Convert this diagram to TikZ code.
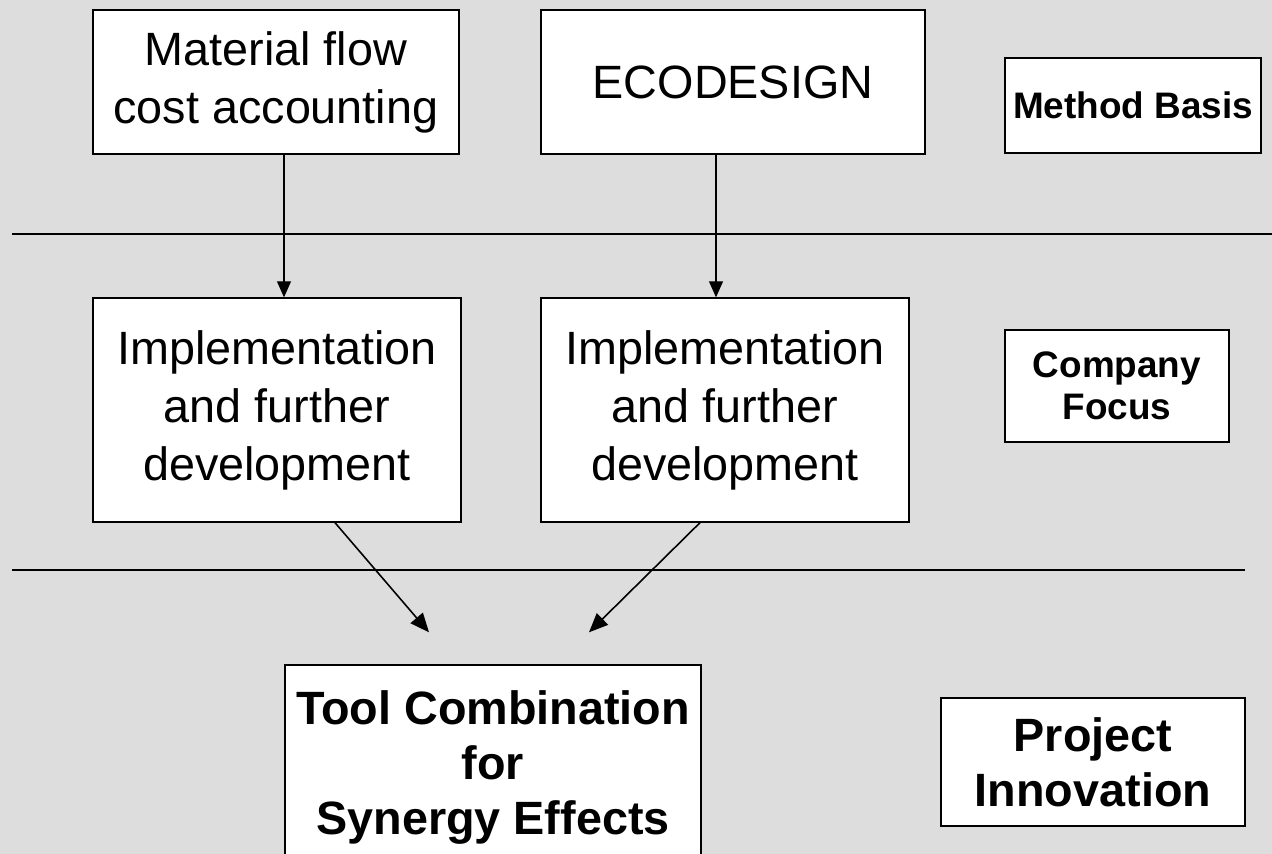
\documentclass[tikz,border=0pt]{standalone}
\usepackage{fontspec}
\setmainfont{Liberation Sans}
\usetikzlibrary{arrows.meta, positioning, calc}
\definecolor{panelgray}{RGB}{221,221,221}

\begin{document}
\begin{tikzpicture}[x=0.02cm, y=-0.02cm,
  box/.style={draw, fill=white, line width=0.8pt, align=center, inner sep=0pt,
              font=\fontsize{26.6}{33}\selectfont},
  boldbox/.style={box, font=\fontsize{26.6}{31.5}\selectfont\bfseries},
  tag/.style={box, font=\fontsize{21}{24}\selectfont\bfseries},
  sep/.style={line width=0.8pt},
  arr/.style={-{Triangle[length=0.32cm, width=0.28cm]}, line width=0.6pt},
  darr/.style={-{Triangle[length=0.38cm, width=0.32cm]}, line width=0.9pt}
]
\fill[panelgray, use as bounding box] (0,0) rectangle (1272,854);
\clip (0,0) rectangle (1272,854);

% method basis row
\node[box, minimum width=7.32cm, minimum height=2.88cm] (mfca) at (276,82)
     {Material flow\\cost accounting};
\node[box, minimum width=7.68cm, minimum height=2.88cm] (eco) at (733,82)
     {ECODESIGN};
\node[tag, minimum width=5.12cm, minimum height=1.9cm] (basis) at (1133,105.5)
     {Method Basis};

\draw[sep] (12,234) -- (1272,234);

% company focus row
\node[box, minimum width=7.36cm, minimum height=4.48cm] (impl1) at (277,410)
     {Implementation\\and further\\development};
\node[box, minimum width=7.36cm, minimum height=4.48cm] (impl2) at (725,410)
     {Implementation\\and further\\development};
\node[tag, minimum width=4.48cm, minimum height=2.24cm] (focus) at (1117,386)
     {Company\\Focus};

\draw[sep] (12,570) -- (1245,570);

% project innovation row
\node[boldbox, minimum width=8.32cm, minimum height=4.1cm] (tool) at (493,767.5)
     {Tool Combination\\for\\Synergy Effects};
\node[boldbox, minimum width=6.08cm, minimum height=2.56cm] (innov) at (1093,762)
     {Project\\Innovation};

\draw[arr] ([xshift=0.16cm]mfca.south) -- ([xshift=0.16cm]mfca.south |- impl1.north);
\draw[arr] ([xshift=-0.34cm]eco.south) -- ([xshift=-0.34cm]eco.south |- impl2.north);
\draw[darr] ([xshift=1.16cm]impl1.south) -- ([xshift=-1.28cm, yshift=0.64cm]tool.north);
\draw[darr] ([xshift=-0.5cm]impl2.south) -- ([xshift=1.92cm, yshift=0.64cm]tool.north);
\end{tikzpicture}
\end{document}
